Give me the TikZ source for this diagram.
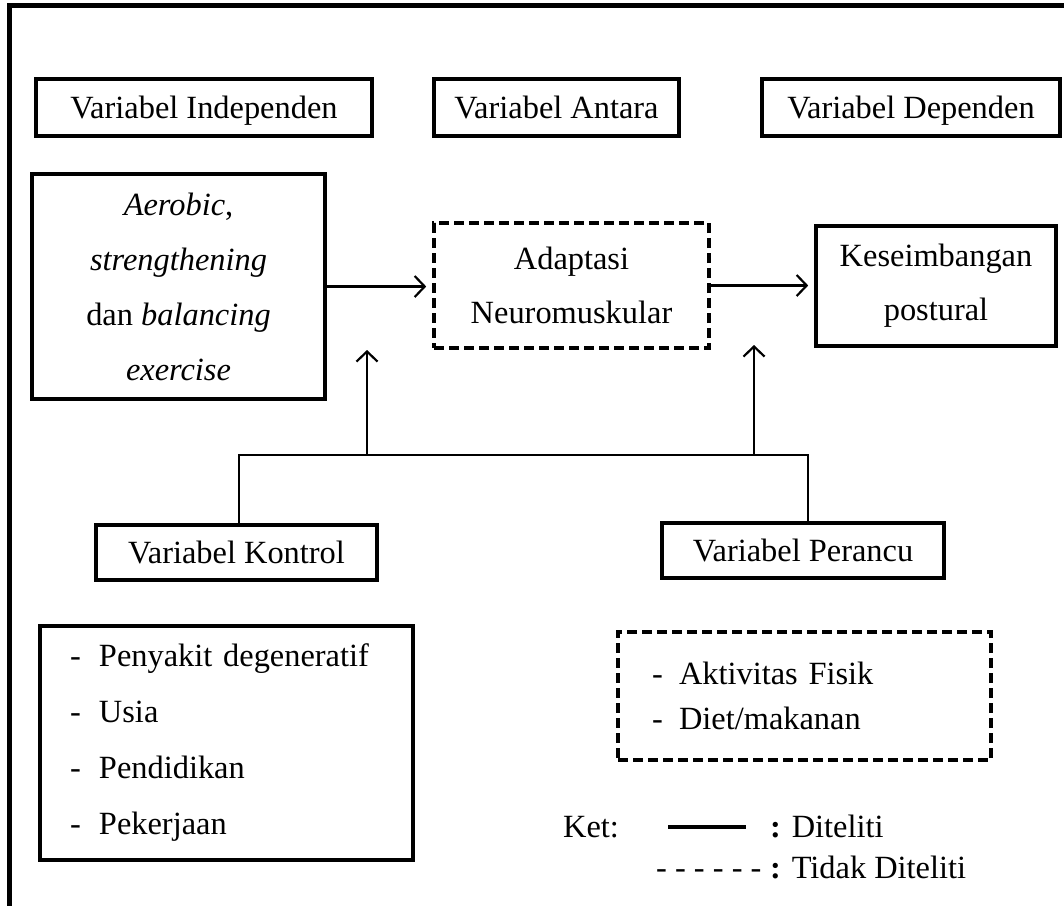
\documentclass[tikz,border=0pt]{standalone}
\usepackage{fontspec}
\setmainfont{Liberation Serif}
\usetikzlibrary{arrows.meta}
\begin{document}
\begin{tikzpicture}[x=1pt,y=-1pt,
  every node/.style={font=\fontsize{32.4}{38}\selectfont},
  box/.style={draw, line width=3.6pt, text depth=0pt},
  dbox/.style={draw, line width=3.6pt, dash pattern=on 10pt off 5pt},
  frameline/.style={line width=5pt},
  arr/.style={line width=2.2pt, -{Straight Barb[length=10pt,width=21pt,line width=2.2pt]}},
  thinline/.style={line width=1.6pt},
  legendtext/.style={anchor=base west, inner sep=0pt}]
\useasboundingbox (0,0) rectangle (1064,906);
% outer frame (top and left visible)
\draw[frameline] (1064,5.5) -- (9,5.5) -- (9,906);
% header boxes
\node[box, minimum width=336, minimum height=57] (indep) at (204,107.5) {Variabel Independen};
\node[box, minimum width=245, minimum height=57] (antara) at (556.5,107.5) {Variabel Antara};
\node[box, minimum width=298, minimum height=57] (depen) at (911,107.5) {Variabel Dependen};
% main boxes
\node[box, text depth=, minimum width=293, minimum height=225, align=center,
  font=\fontsize{32.4}{55}\selectfont] (aero) at (178.5,286.5)
  {\textit{Aerobic},\\ \textit{strengthening}\\ dan \textit{balancing}\\ \textit{exercise}};
\node[dbox, minimum width=275, minimum height=125, align=center,
  font=\fontsize{32.4}{54}\selectfont] (adapt) at (571.5,285.5)
  {Adaptasi\\ Neuromuskular};
\node[box, text depth=, minimum width=240, minimum height=120, align=center,
  font=\fontsize{32.4}{54}\selectfont] (kes) at (936,286)
  {Keseimbangan\\ postural};
% control / confounder boxes
\node[box, minimum width=281, minimum height=55] (kontrol) at (236.5,552.5) {Variabel Kontrol};
\node[box, minimum width=282, minimum height=55] (perancu) at (803,550.5) {Variabel Perancu};
% lists
\node[box, text depth=, text width=313, inner xsep=30, minimum height=234, align=left,
  font=\fontsize{32.4}{56}\selectfont] (klist) at (226.5,743)
  {\makebox[29pt][l]{-}Penyakit degeneratif\\ \makebox[29pt][l]{-}Usia\\ \makebox[29pt][l]{-}Pendidikan\\ \makebox[29pt][l]{-}Pekerjaan};
\node[dbox, text width=305, inner xsep=34, minimum height=128, align=left,
  font=\fontsize{32.4}{45}\selectfont] (plist) at (804.5,696)
  {\makebox[27pt][l]{-}Aktivitas Fisik\\ \makebox[27pt][l]{-}Diet/makanan};
% arrows between main boxes
\draw[arr, shorten >=6pt] (aero.east) -- (aero.east -| adapt.west);
\draw[arr, shorten >=6pt] (adapt.east) -- (adapt.east -| kes.west);
% bracket joining control and confounder
\coordinate (jl) at (239,455);
\coordinate (jr) at (808,455);
\coordinate (a1b) at (367,455);
\coordinate (a1t) at (367,350);
\coordinate (a2b) at (754,455);
\coordinate (a2t) at (754,345);
\draw[thinline] (jl |- kontrol.north) -- (jl) -- (jr) -- (jr |- perancu.north);
\draw[arr] (a1b) -- (a1t);
\draw[arr] (a2b) -- (a2t);
% legend
\node[legendtext] (ket) at (563,837) {Ket:};
\coordinate (ls) at (668,827);
\coordinate (le) at (746,827);
\draw[line width=4.5pt] (ls) -- (le);
\node[legendtext] (dit) at (770,837) {\textbf{:} Diteliti};
\node[legendtext] (dash) at (656,878) {- - - - - -};
\node[legendtext] (tdit) at (770,878) {\textbf{:} Tidak Diteliti};
\end{tikzpicture}
\end{document}
